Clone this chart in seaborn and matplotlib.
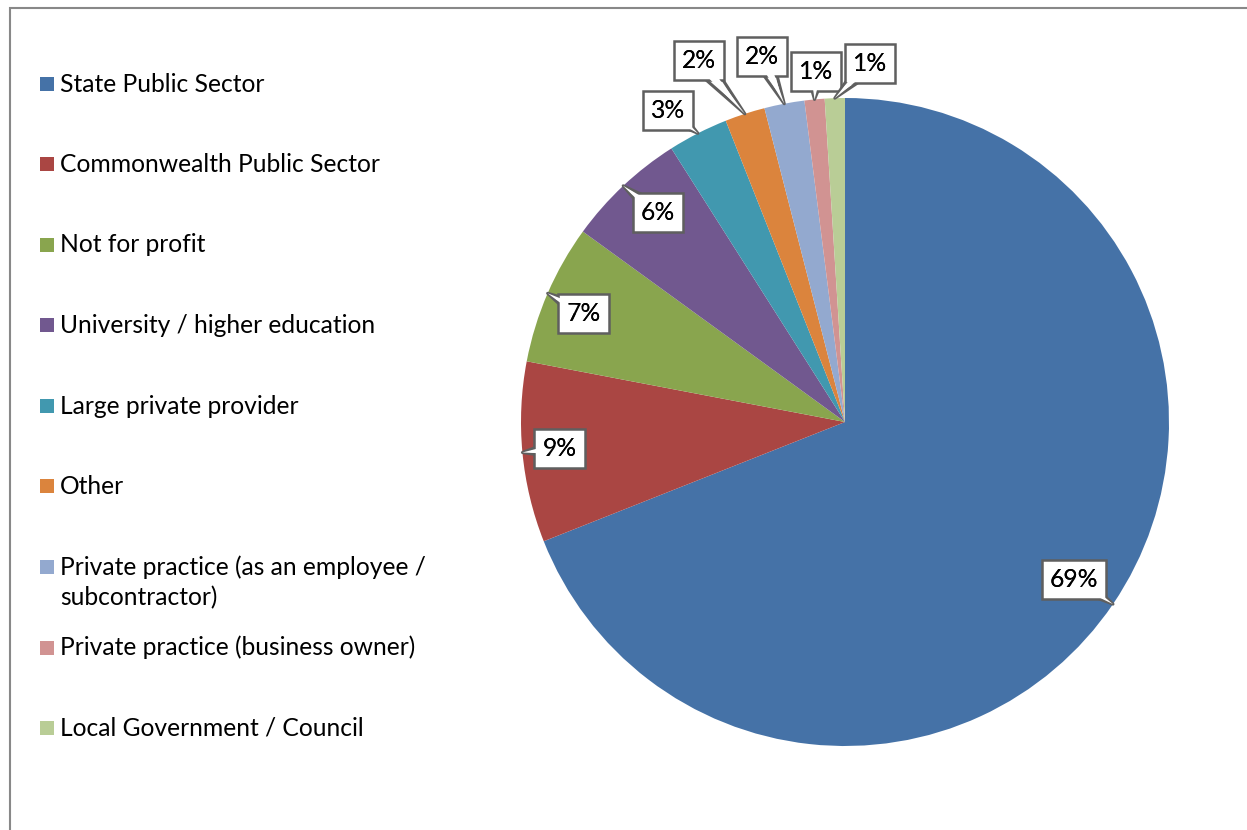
import matplotlib
matplotlib.use("Agg")
import matplotlib.pyplot as plt
import numpy as np
import seaborn as sns
from matplotlib.patches import Rectangle

# Workplace sector shares (percent)
categories = [
    "State Public Sector",
    "Commonwealth Public Sector",
    "Not for profit",
    "University / higher education",
    "Large private provider",
    "Other",
    "Private practice (as an employee /\nsubcontractor)",
    "Private practice (business owner)",
    "Local Government / Council",
]
shares = [69, 9, 7, 6, 3, 2, 2, 1, 1]
colors = ["#4572A7", "#AA4643", "#89A54E", "#71588F", "#4198AF",
          "#DB843D", "#93A9CF", "#D19392", "#B9CD96"]

# callout box offsets from each wedge's outer midpoint (in pie radii)
label_dx = [-0.12, 0.114, 0.111, 0.108, -0.093, -0.142, -0.068, 0.005, 0.108]
label_dy = [0.077, 0.012, -0.062, -0.083, 0.071, 0.164, 0.145, 0.087, 0.108]

sns.set_style("white")
plt.rcParams["font.family"] = ["Lato", "DejaVu Sans"]

W, H = 1247, 830
FS = 17.7
fig = plt.figure(figsize=(W / 100, H / 100), dpi=100)

# pie placement in pixels
cx, cy, r = 845, H - 422, 324
ax = fig.add_axes([(cx - r) / W, (cy - r) / H, 2 * r / W, 2 * r / H])
wedges, _ = ax.pie(shares, colors=colors, startangle=90, counterclock=False,
                   radius=1, wedgeprops=dict(linewidth=0))
ax.set_xlim(-1, 1)
ax.set_ylim(-1, 1)
ax.set_aspect("equal")
ax.axis("off")

edge_col = "#5f5f5f"
for w, v, dx, dy in zip(wedges, shares, label_dx, label_dy):
    ang = np.deg2rad((w.theta1 + w.theta2) / 2)
    px, py = np.cos(ang), np.sin(ang)
    tx, ty = px + dx, py + dy
    txt = f"{v}%"
    ax.annotate(txt, xy=(px, py), xytext=(tx, ty), ha="center", va="center",
                fontsize=FS, color="black", annotation_clip=False, zorder=5,
                bbox=dict(boxstyle="square,pad=0.33", fc="white", ec=edge_col, lw=1.8),
                arrowprops=dict(arrowstyle="wedge,tail_width=0.8,shrink_factor=0.5",
                                fc="white", ec=edge_col, lw=2.2,
                                patchA=None, shrinkA=0, shrinkB=0))
    # open the box border where the pointer joins it
    ax.annotate("", xy=(px, py), xytext=(tx, ty), annotation_clip=False, zorder=6,
                arrowprops=dict(arrowstyle="wedge,tail_width=0.8,shrink_factor=0.5",
                                fc="white", ec="none", lw=0,
                                patchA=None, shrinkA=0, shrinkB=0))
    ax.text(tx, ty, txt, ha="center", va="center", fontsize=FS, color="black", zorder=7)

# legend drawn at fixed rows on the left
y0, step, line_gap = 84, 80.5, 31
for i, (name, c) in enumerate(zip(categories, colors)):
    yc = y0 + i * step
    fig.add_artist(Rectangle((40 / W, 1 - (yc + 7) / H), 14 / W, 14 / H,
                             transform=fig.transFigure, fc=c, ec="none"))
    for j, line in enumerate(name.split("\n")):
        fig.text(60 / W, 1 - (yc + j * line_gap) / H, line, ha="left", va="center",
                 fontsize=FS, color="black")

# chart frame (left and top edges visible)
fig.add_artist(Rectangle((10 / W, -0.5), 2.0, 1.5 - 8 / H, transform=fig.transFigure,
                         fill=False, ec="#888888", lw=1.5))

fig.savefig("out.png", dpi=100, facecolor="white")
